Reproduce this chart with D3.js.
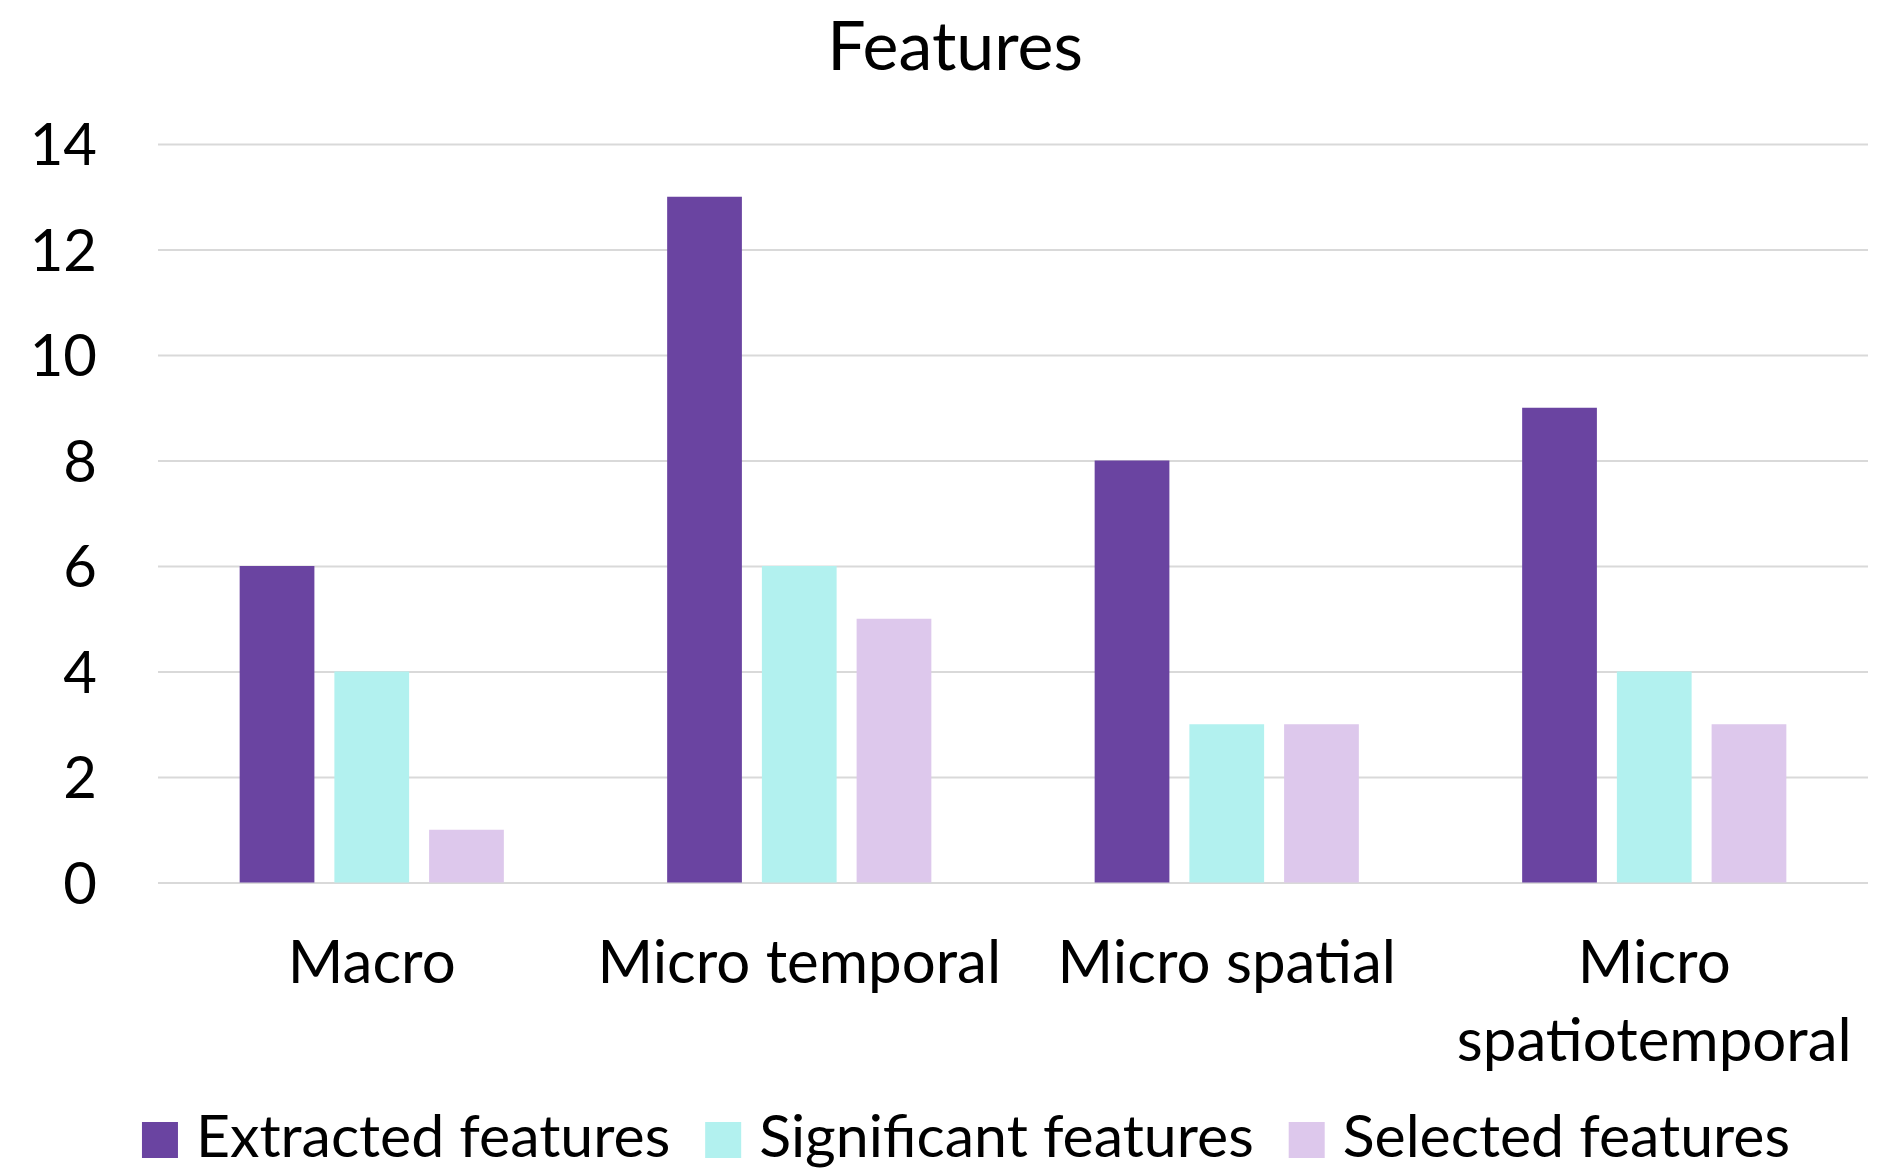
<!DOCTYPE html>
<html>
<head>
<meta charset="utf-8">
<script src="https://cdn.jsdelivr.net/npm/d3@7"></script>
<style>
  html, body { margin: 0; padding: 0; background: #fff; }
  svg { display: block; font-family: Lato, "Open Sans", sans-serif; }
</style>
</head>
<body>
<svg id="chart" width="1904" height="1171"></svg>
<script>
// Feature counts per feature family
const categories = ["Macro", "Micro temporal", "Micro spatial", "Micro spatiotemporal"];
const seriesNames = ["Extracted features", "Significant features", "Selected features"];
const extracted   = [6, 13, 8, 9];
const significant = [4, 6, 3, 4];
const selected    = [1, 5, 3, 3];
const yTicks = [0, 2, 4, 6, 8, 10, 12, 14];
const colors = ["#6A44A1", "#B2F1EF", "#DDC8EC"];

const seriesValues = [extracted, significant, selected];
const rows = categories.map((c, i) => ({
  category: c,
  values: seriesNames.map((s, j) => ({ series: s, value: seriesValues[j][i] }))
}));

const svg = d3.select("#chart");
const plot = { left: 158, right: 1868, top: 144, bottom: 882.5 };

const x = d3.scaleBand().domain(categories).range([plot.left, plot.right]).padding(0);
const xInner = d3.scaleBand().domain(seriesNames)
  .range([0, x.bandwidth()]).paddingInner(0.211).paddingOuter(0.862);
const y = d3.scaleLinear().domain([0, 14]).range([plot.bottom, plot.top]);

// Title
svg.append("text")
  .attr("x", 955).attr("y", 70)
  .attr("text-anchor", "middle")
  .attr("font-size", 68)
  .attr("fill", "#000")
  .text("Features");

// Horizontal gridlines and value labels
const yAxis = d3.axisLeft(y).tickValues(yTicks).tickSize(-(plot.right - plot.left)).tickPadding(61);
const gy = svg.append("g").attr("transform", `translate(${plot.left},0)`).call(yAxis);
gy.select(".domain").remove();
gy.selectAll(".tick line").attr("stroke", "#D9D9D9").attr("stroke-width", 2);
gy.selectAll(".tick text")
  .attr("font-size", 58).attr("fill", "#000")
  .attr("font-family", "Lato, sans-serif")
  .attr("dy", "0.36em");

// Bars
const groups = svg.append("g").selectAll("g")
  .data(rows).join("g")
  .attr("transform", d => `translate(${x(d.category)},0)`);

groups.selectAll("rect")
  .data(d => d.values).join("rect")
  .attr("x", d => xInner(d.series))
  .attr("width", xInner.bandwidth())
  .attr("y", d => y(d.value))
  .attr("height", d => y(0) - y(d.value))
  .attr("fill", (d, i) => colors[i]);

// Category labels, wrapped when wider than their band
const labelSize = 60, lineGap = 78, labelBaseline = 983;
const catG = svg.append("g");
categories.forEach(c => {
  const cx = x(c) + x.bandwidth() / 2;
  const t = catG.append("text")
    .attr("x", cx).attr("y", labelBaseline)
    .attr("text-anchor", "middle")
    .attr("font-size", labelSize).attr("fill", "#000");
  t.text(c);
  if (t.node().getComputedTextLength() > x.bandwidth() * 0.98) {
    t.text(null);
    c.split(" ").forEach((w, k) => {
      t.append("tspan").attr("x", cx).attr("y", labelBaseline + k * lineGap).text(w);
    });
  }
});

// Legend
const legend = svg.append("g");
const sq = 36, gapText = 18, gapItem = 35, legendBaseline = 1157;
const items = legend.selectAll("g").data(seriesNames).join("g");
items.append("rect")
  .attr("width", sq).attr("height", sq)
  .attr("y", legendBaseline - sq + 1)
  .attr("fill", (d, i) => colors[i]);
items.append("text")
  .attr("x", sq + gapText).attr("y", legendBaseline)
  .attr("font-size", 59).attr("fill", "#000")
  .text(d => d);
const widths = [];
items.each(function () {
  const w = sq + gapText + d3.select(this).select("text").node().getComputedTextLength();
  widths.push(w);
});
const total = d3.sum(widths) + gapItem * (widths.length - 1);
let start = 966 - total / 2;
items.attr("transform", (d, i) => {
  const tx = start;
  start += widths[i] + gapItem;
  return `translate(${tx},0)`;
});
</script>
</body>
</html>
